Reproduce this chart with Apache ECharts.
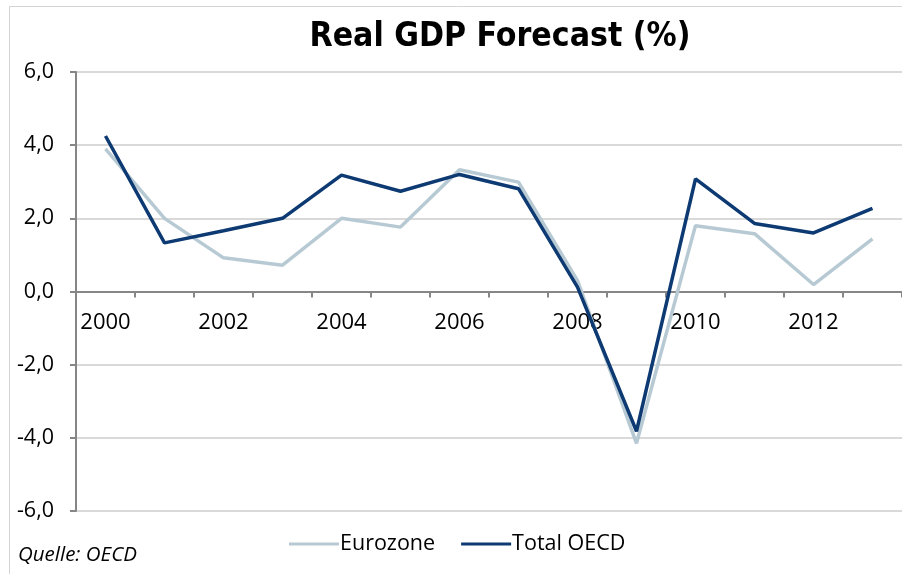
<!DOCTYPE html>
<html>
<head>
<meta charset="utf-8">
<script src="https://cdn.jsdelivr.net/npm/echarts@6/dist/echarts.min.js"></script>
<style>
html,body{margin:0;padding:0;background:#fff;}
#chart{width:902px;height:574px;}
</style>
</head>
<body>
<div id="chart"></div>
<script>
const years = ['2000','2001','2002','2003','2004','2005','2006','2007','2008','2009','2010','2011','2012','2013'];
const eurozone = [3.9, 2.0, 0.92, 0.72, 2.0, 1.76, 3.33, 2.99, 0.3, -4.15, 1.8, 1.58, 0.19, 1.44];
const totalOECD = [4.25, 1.33, 1.66, 2.0, 3.18, 2.74, 3.2, 2.81, 0.12, -3.82, 3.08, 1.86, 1.6, 2.27];
const yTicks = [-6, -4, -2, 0, 2, 4, 6];

const FONT = 'Open Sans';
const chart = echarts.init(document.getElementById('chart'), null, {renderer: 'canvas'});
chart.setOption({
  animation: false,
  backgroundColor: '#fff',
  title: {
    text: 'Real GDP Forecast (%)',
    left: 495, top: 15, textAlign: 'center',
    textStyle: {fontFamily: 'DejaVu Sans Condensed', fontSize: 33.5, fontWeight: 'bold', color: '#000'}
  },
  graphic: [
    {type: 'rect', shape: {x: 9.5, y: 6.5, width: 1000, height: 1000}, style: {fill: 'none', stroke: '#d4d4d4', lineWidth: 1}, silent: true},
    {type: 'text', left: 18, top: 545, style: {text: 'Quelle: OECD', font: 'italic 20.5px "Open Sans"', fill: '#000'}}
  ],
  legend: {
    bottom: 14, left: 284,
    itemWidth: 50, itemHeight: 3, itemGap: 26,
    icon: 'rect',
    textStyle: {fontFamily: FONT, fontSize: 21.5, color: '#000', padding: [0,0,0,-4]},
    data: ['Eurozone', 'Total OECD']
  },
  grid: {left: 76, right: 0, top: 72, bottom: 63},
  xAxis: {
    type: 'category', data: years, boundaryGap: true,
    position: 'bottom', offset: -219.5,
    axisLine: {onZero: false, lineStyle: {color: '#868686', width: 2}},
    axisTick: {show: true, interval: 0, length: 6, lineStyle: {color: '#868686', width: 2}},
    axisLabel: {interval: 1, margin: 20, fontFamily: FONT, fontSize: 22, color: '#000'},
    splitLine: {show: false}
  },
  yAxis: {
    type: 'value', min: -6, max: 6, interval: 2,
    axisLine: {show: true, lineStyle: {color: '#868686', width: 2}},
    axisTick: {show: true, length: 6, lineStyle: {color: '#868686', width: 2}},
    axisLabel: {margin: 22, fontFamily: FONT, fontSize: 21.5, color: '#000', formatter: v => v.toFixed(1).replace('.', ',')},
    splitLine: {show: true, lineStyle: {color: '#d9d9d9', width: 2}}
  },
  series: [
    {name: 'Eurozone', type: 'line', data: eurozone, symbol: 'none', lineStyle: {color: '#b7cad4', width: 3.5}, itemStyle: {color: '#b7cad4'}},
    {name: 'Total OECD', type: 'line', data: totalOECD, symbol: 'none', lineStyle: {color: '#0d3a72', width: 3.5}, itemStyle: {color: '#0d3a72'}}
  ]
});
</script>
</body>
</html>
